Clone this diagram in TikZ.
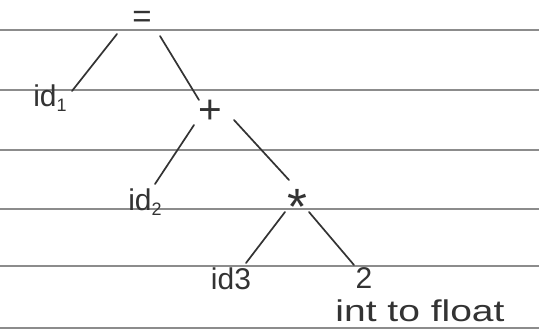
\documentclass[tikz,border=0pt]{standalone}
\usepackage{fontspec}
\setmainfont{Liberation Sans}
\usetikzlibrary{calc}
\newcommand{\sbs}[1]{{\fontsize{18}{20}\selectfont\raisebox{-5pt}{#1}}}
\begin{document}
\begin{tikzpicture}[x=1pt,y=-1pt,
  rule/.style={draw=black!45, line width=1.2pt},
  edge/.style={draw=black!80, line width=1.7pt, line cap=round},
  lbl/.style={text=black!80, font=\fontsize{30}{32}\selectfont, inner sep=0pt}]
\fill[white] (0,0) rectangle (539,335);
\useasboundingbox (0,0) rectangle (539,335);
\foreach \y in {30,90,150,209,266,328} \draw[rule] (0,\y) -- (539,\y);
\node[lbl] (eq) at (142,19) {\scalebox{1.1}{=}};
\node[lbl] (id1) at (50,98) {id\sbs{1}};
\node[lbl] (plus) at (210,112) {\scalebox{1.35}{+}};
\node[lbl] (id2) at (145,202) {id\sbs{2}};
\node[lbl] (mul) at (297,207) {\scalebox{1.7}{*}};
\node[lbl] (id3) at (231,279) {id3};
\node[lbl] (two) at (364,278) {2};
\node[lbl] (itf) at (420,311) {\scalebox{1.3}[1]{int to float}};
\draw[edge] ($(eq)+(-25,15)$) -- ($(id1)+(22,-7)$);
\draw[edge] ($(eq)+(18,17)$) -- ($(plus)+(-11,-12)$);
\draw[edge] ($(plus)+(-16,13)$) -- ($(id2)+(10,-18)$);
\draw[edge] ($(plus)+(24,8)$) -- ($(mul)+(-8,-27)$);
\draw[edge] ($(mul)+(-12,5)$) -- ($(id3)+(15,-16)$);
\draw[edge] ($(mul)+(12,5)$) -- ($(two)+(-10,-13)$);
\end{tikzpicture}
\end{document}
